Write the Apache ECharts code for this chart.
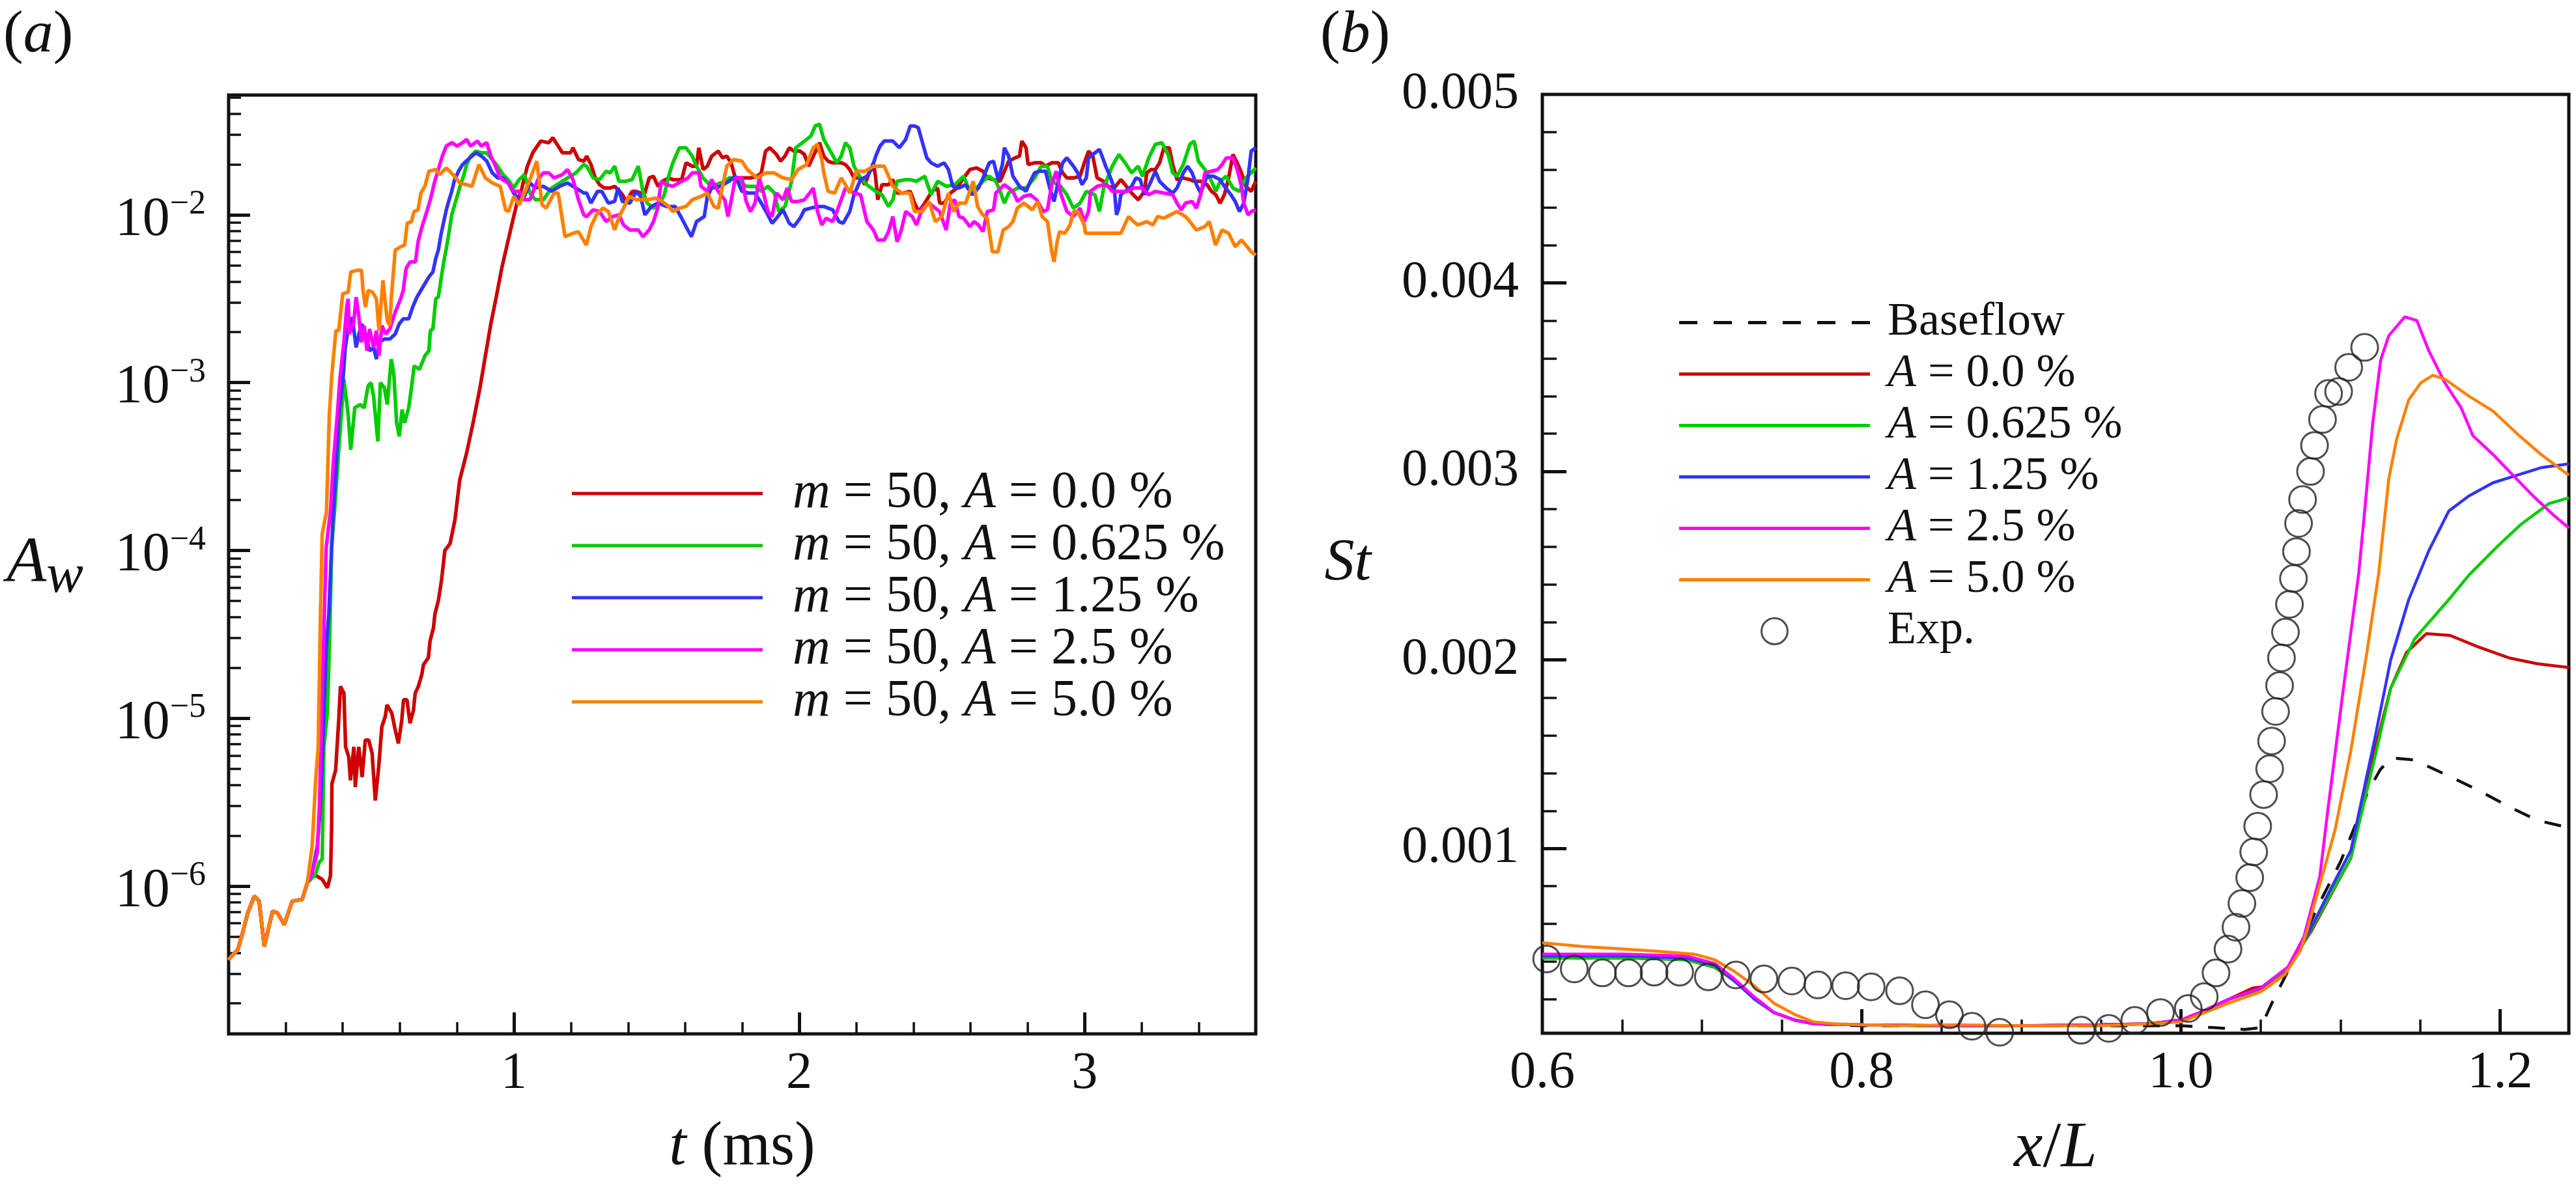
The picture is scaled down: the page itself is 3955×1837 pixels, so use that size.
<!DOCTYPE html>
<html lang="en">
<head>
<meta charset="UTF-8" />
<title>A_w growth and St distribution</title>
<style>
  html, body { margin: 0; padding: 0; background: #fff; }
  #chart { width: 3955px; height: 1837px; }
</style>
</head>
<body>
<div id="chart"></div>
<script src="https://cdn.jsdelivr.net/npm/echarts@6/dist/echarts.min.js"></script>
<script>
// ---------- panel (a): log10(A_w) against t (ms) ----------
// all five runs share the same start
var aCommon = [[0.0,-6.44],[0.009,-6.42],[0.032,-6.38],[0.049,-6.28],[0.067,-6.16],[0.090,-6.06],[0.107,-6.09],[0.125,-6.36],[0.154,-6.15],[0.171,-6.16],[0.195,-6.23],[0.223,-6.09],[0.258,-6.08],[0.276,-5.98]];

var aRed = [[0.299,-5.93],[0.328,-5.96],[0.346,-6.01],[0.357,-5.94],[0.361,-5.65],[0.362,-5.39],[0.375,-5.31],[0.386,-5.01],[0.392,-4.81],[0.404,-4.85],[0.410,-5.17],[0.421,-5.23],[0.427,-5.37],[0.439,-5.17],[0.444,-5.41],[0.456,-5.17],[0.468,-5.35],[0.479,-5.13],[0.491,-5.13],[0.503,-5.21],[0.514,-5.49],[0.526,-5.29],[0.537,-5.05],[0.549,-4.99],[0.555,-4.92],[0.572,-4.97],[0.584,-5.07],[0.595,-5.15],[0.607,-5.01],[0.613,-4.89],[0.625,-4.89],[0.636,-5.03],[0.648,-4.95],[0.654,-4.85],[0.665,-4.81],[0.677,-4.74],[0.683,-4.68],[0.700,-4.64],[0.706,-4.54],[0.718,-4.46],[0.723,-4.38],[0.735,-4.30],[0.746,-4.18],[0.758,-4.00],[0.776,-3.96],[0.793,-3.82],[0.810,-3.58],[0.834,-3.42],[0.858,-3.23],[0.881,-3.03],[0.900,-2.84],[0.919,-2.65],[0.938,-2.49],[0.957,-2.32],[0.976,-2.18],[0.995,-2.04],[1.009,-1.94],[1.028,-1.84],[1.047,-1.71],[1.066,-1.63],[1.094,-1.56],[1.122,-1.57],[1.136,-1.54],[1.155,-1.59],[1.170,-1.63],[1.198,-1.63],[1.207,-1.60],[1.226,-1.67],[1.245,-1.68],[1.255,-1.65],[1.270,-1.70],[1.285,-1.78],[1.300,-1.82],[1.316,-1.84],[1.338,-1.84],[1.353,-1.83],[1.376,-1.87],[1.395,-1.92],[1.414,-1.86],[1.429,-1.86],[1.444,-1.87],[1.459,-1.87],[1.474,-1.78],[1.489,-1.77],[1.505,-1.83],[1.520,-1.80],[1.542,-1.78],[1.557,-1.79],[1.588,-1.79],[1.603,-1.69],[1.625,-1.71],[1.640,-1.71],[1.648,-1.60],[1.663,-1.73],[1.678,-1.71],[1.693,-1.65],[1.716,-1.62],[1.731,-1.66],[1.746,-1.65],[1.761,-1.69],[1.776,-1.78],[1.799,-1.78],[1.829,-1.78],[1.852,-1.77],[1.867,-1.75],[1.882,-1.62],[1.897,-1.60],[1.920,-1.64],[1.935,-1.68],[1.950,-1.65],[1.965,-1.60],[1.981,-1.62],[2.003,-1.62],[2.018,-1.64],[2.033,-1.71],[2.049,-1.65],[2.064,-1.60],[2.071,-1.57],[2.086,-1.65],[2.101,-1.68],[2.117,-1.69],[2.147,-1.69],[2.162,-1.70],[2.177,-1.73],[2.192,-1.78],[2.215,-1.78],[2.230,-1.82],[2.245,-1.75],[2.260,-1.69],[2.268,-1.78],[2.275,-1.91],[2.290,-1.82],[2.313,-1.82],[2.328,-1.79],[2.343,-1.87],[2.366,-1.87],[2.389,-1.86],[2.404,-1.93],[2.419,-1.98],[2.440,-1.93],[2.465,-1.86],[2.485,-1.84],[2.492,-1.93],[2.508,-1.93],[2.530,-1.87],[2.553,-1.84],[2.568,-1.80],[2.598,-1.73],[2.621,-1.72],[2.644,-1.74],[2.659,-1.78],[2.681,-1.79],[2.704,-1.80],[2.719,-1.74],[2.734,-1.68],[2.757,-1.66],[2.772,-1.65],[2.780,-1.56],[2.795,-1.60],[2.802,-1.70],[2.825,-1.69],[2.848,-1.69],[2.863,-1.71],[2.885,-1.69],[2.908,-1.69],[2.923,-1.75],[2.938,-1.78],[2.961,-1.78],[2.984,-1.77],[2.999,-1.69],[3.014,-1.62],[3.029,-1.65],[3.044,-1.78],[3.067,-1.80],[3.082,-1.83],[3.104,-1.84],[3.127,-1.79],[3.142,-1.82],[3.165,-1.87],[3.188,-1.91],[3.210,-1.86],[3.218,-1.75],[3.233,-1.73],[3.248,-1.73],[3.263,-1.69],[3.278,-1.60],[3.297,-1.60],[3.309,-1.70],[3.324,-1.79],[3.346,-1.78],[3.369,-1.79],[3.384,-1.80],[3.407,-1.80],[3.429,-1.82],[3.445,-1.86],[3.460,-1.88],[3.475,-1.93],[3.490,-1.88],[3.505,-1.78],[3.520,-1.64],[3.535,-1.69],[3.550,-1.75],[3.565,-1.83],[3.584,-1.86],[3.600,-1.80]];

var aGreen = [[0.305,-5.93],[0.317,-5.86],[0.328,-5.84],[0.334,-5.17],[0.346,-4.97],[0.354,-4.54],[0.361,-3.98],[0.371,-3.77],[0.386,-3.40],[0.400,-3.08],[0.404,-2.98],[0.419,-3.19],[0.428,-3.40],[0.442,-3.15],[0.461,-3.13],[0.475,-3.15],[0.489,-3.02],[0.499,-3.00],[0.508,-3.08],[0.523,-3.35],[0.532,-3.00],[0.546,-3.03],[0.556,-3.13],[0.570,-2.86],[0.579,-2.95],[0.589,-3.24],[0.598,-3.32],[0.608,-3.16],[0.617,-3.24],[0.631,-3.15],[0.641,-3.03],[0.650,-2.90],[0.669,-2.92],[0.688,-2.84],[0.702,-2.81],[0.707,-2.69],[0.716,-2.68],[0.726,-2.50],[0.735,-2.49],[0.744,-2.39],[0.754,-2.28],[0.763,-2.20],[0.773,-2.10],[0.782,-2.00],[0.792,-1.94],[0.801,-1.89],[0.811,-1.83],[0.825,-1.76],[0.834,-1.70],[0.848,-1.65],[0.867,-1.62],[0.886,-1.63],[0.905,-1.63],[0.924,-1.67],[0.943,-1.71],[0.962,-1.76],[0.980,-1.79],[0.999,-1.84],[1.018,-1.79],[1.037,-1.76],[1.056,-1.87],[1.075,-1.91],[1.103,-1.91],[1.132,-1.84],[1.160,-1.81],[1.188,-1.78],[1.217,-1.75],[1.245,-1.70],[1.255,-1.71],[1.278,-1.78],[1.300,-1.79],[1.323,-1.74],[1.338,-1.75],[1.353,-1.71],[1.368,-1.80],[1.391,-1.80],[1.414,-1.79],[1.436,-1.71],[1.452,-1.86],[1.467,-1.93],[1.489,-1.96],[1.512,-1.93],[1.527,-1.88],[1.542,-1.77],[1.557,-1.69],[1.580,-1.60],[1.603,-1.60],[1.625,-1.65],[1.640,-1.71],[1.663,-1.78],[1.686,-1.82],[1.708,-1.82],[1.739,-1.80],[1.754,-1.78],[1.776,-1.78],[1.792,-1.80],[1.814,-1.83],[1.845,-1.83],[1.867,-1.86],[1.890,-1.83],[1.913,-1.87],[1.928,-1.98],[1.950,-1.95],[1.973,-1.80],[1.988,-1.60],[2.011,-1.57],[2.041,-1.53],[2.056,-1.47],[2.071,-1.46],[2.086,-1.55],[2.109,-1.62],[2.132,-1.69],[2.147,-1.65],[2.162,-1.57],[2.177,-1.60],[2.192,-1.71],[2.215,-1.78],[2.237,-1.82],[2.268,-1.86],[2.290,-1.88],[2.313,-1.95],[2.328,-1.91],[2.343,-1.80],[2.373,-1.79],[2.389,-1.79],[2.411,-1.80],[2.440,-1.77],[2.462,-1.88],[2.485,-1.80],[2.515,-1.83],[2.545,-1.82],[2.576,-1.77],[2.598,-1.86],[2.621,-1.84],[2.644,-1.80],[2.666,-1.77],[2.689,-1.80],[2.704,-1.86],[2.719,-1.93],[2.734,-1.87],[2.765,-1.84],[2.795,-1.84],[2.825,-1.78],[2.848,-1.71],[2.870,-1.71],[2.885,-1.80],[2.916,-1.83],[2.938,-1.88],[2.961,-1.96],[2.984,-1.93],[3.006,-1.86],[3.036,-1.88],[3.052,-1.98],[3.067,-1.84],[3.097,-1.71],[3.120,-1.64],[3.142,-1.69],[3.165,-1.75],[3.188,-1.71],[3.203,-1.77],[3.225,-1.66],[3.248,-1.58],[3.271,-1.57],[3.293,-1.64],[3.309,-1.75],[3.324,-1.77],[3.346,-1.70],[3.369,-1.58],[3.384,-1.56],[3.399,-1.68],[3.422,-1.73],[3.445,-1.80],[3.460,-1.86],[3.475,-1.80],[3.497,-1.77],[3.520,-1.84],[3.543,-1.86],[3.565,-1.78],[3.584,-1.75],[3.600,-1.72]];

var aBlue = [[0.293,-5.92],[0.311,-5.76],[0.322,-5.51],[0.334,-4.97],[0.342,-4.58],[0.351,-4.38],[0.361,-3.98],[0.367,-3.77],[0.376,-3.52],[0.386,-3.19],[0.400,-3.00],[0.409,-2.79],[0.419,-2.68],[0.433,-2.61],[0.447,-2.79],[0.457,-2.71],[0.466,-2.65],[0.480,-2.71],[0.494,-2.81],[0.508,-2.79],[0.518,-2.86],[0.527,-2.76],[0.546,-2.74],[0.565,-2.74],[0.584,-2.71],[0.598,-2.65],[0.612,-2.62],[0.631,-2.62],[0.645,-2.55],[0.660,-2.49],[0.674,-2.45],[0.688,-2.41],[0.702,-2.37],[0.716,-2.34],[0.726,-2.26],[0.735,-2.21],[0.744,-2.12],[0.754,-2.04],[0.763,-1.97],[0.773,-1.91],[0.782,-1.86],[0.792,-1.79],[0.806,-1.74],[0.820,-1.70],[0.839,-1.67],[0.867,-1.63],[0.886,-1.65],[0.905,-1.68],[0.924,-1.75],[0.943,-1.78],[0.962,-1.78],[0.980,-1.81],[0.999,-1.87],[1.018,-1.91],[1.037,-1.89],[1.056,-1.81],[1.075,-1.84],[1.103,-1.83],[1.132,-1.86],[1.160,-1.83],[1.188,-1.81],[1.217,-1.84],[1.245,-1.87],[1.255,-1.87],[1.270,-1.93],[1.293,-1.86],[1.308,-1.86],[1.331,-1.93],[1.353,-1.92],[1.365,-1.84],[1.380,-1.92],[1.406,-1.93],[1.429,-1.86],[1.444,-1.89],[1.459,-2.00],[1.482,-1.95],[1.505,-1.93],[1.535,-1.95],[1.565,-1.95],[1.588,-2.02],[1.603,-2.07],[1.622,-2.13],[1.640,-2.04],[1.667,-2.01],[1.678,-1.89],[1.693,-1.84],[1.724,-1.83],[1.754,-1.80],[1.776,-1.77],[1.799,-1.86],[1.822,-1.87],[1.845,-1.87],[1.867,-1.93],[1.890,-2.00],[1.905,-2.05],[1.920,-2.02],[1.943,-1.97],[1.965,-2.05],[1.981,-2.07],[2.003,-2.02],[2.018,-1.97],[2.041,-1.96],[2.064,-1.95],[2.086,-1.95],[2.117,-1.97],[2.139,-2.04],[2.154,-2.05],[2.177,-1.98],[2.192,-1.88],[2.215,-1.79],[2.237,-1.77],[2.253,-1.73],[2.268,-1.65],[2.283,-1.59],[2.298,-1.56],[2.328,-1.56],[2.351,-1.60],[2.373,-1.55],[2.389,-1.47],[2.404,-1.47],[2.417,-1.48],[2.432,-1.57],[2.447,-1.66],[2.462,-1.69],[2.485,-1.71],[2.508,-1.69],[2.523,-1.73],[2.538,-1.83],[2.560,-1.84],[2.583,-1.82],[2.606,-1.88],[2.628,-1.84],[2.644,-1.78],[2.666,-1.69],[2.681,-1.68],[2.697,-1.79],[2.712,-1.70],[2.719,-1.60],[2.734,-1.65],[2.749,-1.77],[2.772,-1.83],[2.795,-1.86],[2.810,-1.80],[2.825,-1.75],[2.840,-1.74],[2.863,-1.74],[2.878,-1.84],[2.893,-1.92],[2.908,-1.80],[2.923,-1.69],[2.938,-1.66],[2.961,-1.71],[2.976,-1.75],[2.991,-1.82],[3.006,-1.78],[3.014,-1.66],[3.029,-1.64],[3.052,-1.61],[3.059,-1.64],[3.074,-1.71],[3.089,-1.77],[3.104,-1.84],[3.112,-2.00],[3.120,-1.96],[3.127,-1.88],[3.142,-1.86],[3.165,-1.83],[3.180,-1.78],[3.195,-1.79],[3.210,-1.88],[3.233,-1.80],[3.248,-1.74],[3.263,-1.80],[3.286,-1.84],[3.309,-1.87],[3.324,-1.84],[3.346,-1.75],[3.361,-1.71],[3.377,-1.75],[3.392,-1.82],[3.407,-1.87],[3.429,-1.77],[3.452,-1.77],[3.475,-1.79],[3.490,-1.83],[3.513,-1.88],[3.528,-1.92],[3.543,-1.98],[3.558,-1.93],[3.573,-1.78],[3.584,-1.62],[3.600,-1.60]];

var aMagenta = [[0.293,-5.92],[0.311,-5.80],[0.319,-5.49],[0.326,-4.97],[0.334,-4.48],[0.342,-3.98],[0.357,-3.77],[0.367,-3.48],[0.381,-3.19],[0.390,-2.98],[0.404,-2.76],[0.414,-2.55],[0.419,-2.50],[0.423,-2.71],[0.438,-2.65],[0.447,-2.49],[0.456,-2.60],[0.466,-2.76],[0.475,-2.66],[0.485,-2.81],[0.494,-2.68],[0.508,-2.79],[0.518,-2.69],[0.527,-2.84],[0.537,-2.66],[0.551,-2.71],[0.565,-2.68],[0.584,-2.58],[0.603,-2.50],[0.612,-2.45],[0.622,-2.32],[0.636,-2.28],[0.655,-2.28],[0.664,-2.16],[0.678,-2.07],[0.693,-1.99],[0.707,-1.91],[0.721,-1.81],[0.735,-1.73],[0.749,-1.65],[0.763,-1.59],[0.782,-1.57],[0.801,-1.59],[0.820,-1.57],[0.834,-1.55],[0.848,-1.59],[0.872,-1.56],[0.886,-1.59],[0.905,-1.57],[0.919,-1.65],[0.933,-1.70],[0.952,-1.78],[0.980,-1.81],[0.999,-1.86],[1.018,-1.86],[1.037,-1.91],[1.056,-1.91],[1.084,-1.79],[1.103,-1.75],[1.122,-1.75],[1.141,-1.78],[1.169,-1.76],[1.188,-1.73],[1.207,-1.79],[1.226,-1.91],[1.245,-2.00],[1.255,-2.01],[1.278,-1.97],[1.300,-1.98],[1.323,-2.04],[1.346,-2.01],[1.368,-2.00],[1.384,-2.06],[1.406,-2.09],[1.436,-2.09],[1.452,-2.13],[1.474,-2.09],[1.489,-2.04],[1.504,-1.96],[1.516,-1.80],[1.535,-1.82],[1.557,-1.83],[1.588,-1.80],[1.610,-1.78],[1.625,-1.75],[1.648,-1.75],[1.656,-1.83],[1.678,-1.86],[1.693,-1.79],[1.716,-1.86],[1.739,-1.91],[1.750,-2.01],[1.761,-1.92],[1.776,-1.78],[1.799,-1.78],[1.814,-1.92],[1.829,-1.98],[1.845,-1.93],[1.860,-1.78],[1.875,-1.87],[1.890,-1.98],[1.905,-2.01],[1.920,-1.87],[1.943,-1.91],[1.958,-1.84],[1.973,-1.92],[1.996,-1.92],[2.018,-1.91],[2.041,-1.86],[2.049,-1.84],[2.064,-1.98],[2.079,-2.06],[2.094,-2.02],[2.117,-2.04],[2.132,-1.98],[2.147,-1.91],[2.162,-1.84],[2.192,-1.87],[2.215,-1.88],[2.237,-2.04],[2.260,-2.09],[2.275,-2.15],[2.298,-2.15],[2.313,-2.10],[2.328,-2.01],[2.343,-2.16],[2.358,-2.09],[2.373,-1.98],[2.396,-2.01],[2.411,-2.06],[2.432,-1.96],[2.455,-1.93],[2.477,-1.96],[2.492,-1.98],[2.515,-2.09],[2.530,-1.93],[2.545,-1.91],[2.560,-2.01],[2.576,-2.02],[2.598,-2.07],[2.613,-2.04],[2.628,-2.06],[2.644,-2.10],[2.659,-1.98],[2.681,-1.97],[2.689,-1.87],[2.719,-1.82],[2.749,-1.86],[2.765,-1.92],[2.787,-1.89],[2.810,-1.88],[2.832,-1.91],[2.855,-1.98],[2.870,-1.97],[2.885,-1.82],[2.901,-1.74],[2.916,-1.87],[2.938,-1.98],[2.961,-2.01],[2.984,-1.96],[2.999,-2.04],[3.014,-1.98],[3.021,-1.86],[3.044,-1.83],[3.067,-1.82],[3.082,-1.83],[3.097,-1.86],[3.127,-1.86],[3.150,-1.86],[3.172,-1.84],[3.203,-1.84],[3.225,-1.88],[3.248,-1.86],[3.278,-1.87],[3.309,-1.88],[3.324,-1.93],[3.339,-1.97],[3.354,-1.93],[3.377,-1.92],[3.392,-1.96],[3.407,-1.88],[3.422,-1.75],[3.445,-1.74],[3.467,-1.73],[3.482,-1.70],[3.497,-1.66],[3.520,-1.66],[3.535,-1.73],[3.550,-1.83],[3.558,-1.93],[3.573,-2.00],[3.584,-1.98],[3.600,-1.97]];

var aOrange = [[0.293,-5.76],[0.305,-5.37],[0.314,-5.17],[0.322,-4.38],[0.328,-3.90],[0.343,-3.77],[0.353,-3.19],[0.362,-2.95],[0.376,-2.69],[0.386,-2.69],[0.400,-2.47],[0.419,-2.46],[0.428,-2.34],[0.452,-2.33],[0.466,-2.33],[0.471,-2.45],[0.480,-2.55],[0.489,-2.45],[0.504,-2.46],[0.518,-2.50],[0.527,-2.69],[0.541,-2.39],[0.556,-2.63],[0.565,-2.66],[0.570,-2.50],[0.584,-2.21],[0.603,-2.19],[0.617,-2.18],[0.626,-2.05],[0.641,-2.04],[0.650,-1.98],[0.664,-1.97],[0.674,-1.87],[0.688,-1.83],[0.702,-1.74],[0.726,-1.73],[0.740,-1.76],[0.763,-1.72],[0.792,-1.77],[0.810,-1.81],[0.834,-1.82],[0.853,-1.83],[0.877,-1.70],[0.900,-1.78],[0.924,-1.81],[0.952,-1.83],[0.971,-1.97],[0.981,-1.98],[1.000,-1.89],[1.018,-1.94],[1.037,-1.87],[1.056,-1.79],[1.080,-1.68],[1.099,-1.94],[1.113,-1.96],[1.141,-1.87],[1.155,-1.87],[1.179,-2.13],[1.207,-2.11],[1.226,-2.10],[1.254,-2.18],[1.270,-2.07],[1.289,-2.00],[1.312,-1.96],[1.331,-1.98],[1.353,-2.09],[1.369,-2.01],[1.387,-1.95],[1.403,-1.89],[1.429,-1.91],[1.467,-1.91],[1.497,-1.90],[1.520,-1.92],[1.542,-1.95],[1.557,-1.98],[1.580,-1.96],[1.603,-1.95],[1.625,-1.91],[1.656,-1.89],[1.678,-1.87],[1.701,-1.95],[1.716,-1.96],[1.731,-1.83],[1.746,-1.71],[1.769,-1.67],[1.799,-1.68],[1.818,-1.73],[1.852,-1.78],[1.882,-1.75],[1.912,-1.75],[1.943,-1.78],[1.973,-1.79],[1.996,-1.73],[2.026,-1.70],[2.049,-1.60],[2.064,-1.58],[2.079,-1.67],[2.086,-1.75],[2.101,-1.86],[2.124,-1.87],[2.147,-1.78],[2.162,-1.82],[2.177,-1.87],[2.200,-1.74],[2.230,-1.74],[2.260,-1.71],[2.298,-1.71],[2.328,-1.83],[2.358,-1.87],[2.388,-1.87],[2.404,-1.98],[2.432,-1.98],[2.455,-1.92],[2.477,-2.04],[2.500,-2.01],[2.523,-1.87],[2.541,-1.98],[2.560,-1.93],[2.583,-1.93],[2.610,-1.80],[2.625,-1.95],[2.643,-2.00],[2.659,-2.02],[2.677,-2.22],[2.696,-2.22],[2.715,-2.09],[2.734,-2.07],[2.749,-2.04],[2.764,-1.96],[2.787,-1.93],[2.817,-1.97],[2.836,-1.92],[2.851,-2.01],[2.870,-2.04],[2.885,-2.22],[2.893,-2.28],[2.904,-2.16],[2.912,-2.10],[2.931,-2.11],[2.949,-2.06],[2.961,-1.98],[2.976,-1.98],[2.999,-2.06],[3.003,-2.11],[3.044,-2.11],[3.097,-2.11],[3.127,-2.11],[3.154,-2.01],[3.172,-2.04],[3.187,-2.06],[3.218,-2.04],[3.240,-2.06],[3.256,-2.01],[3.278,-2.02],[3.301,-2.00],[3.324,-1.98],[3.354,-2.01],[3.369,-2.04],[3.392,-2.09],[3.422,-2.07],[3.437,-2.04],[3.459,-2.18],[3.482,-2.09],[3.505,-2.11],[3.528,-2.19],[3.550,-2.15],[3.565,-2.18],[3.584,-2.22],[3.600,-2.24]];

var aNames = ['m = 50, A = 0.0 %', 'm = 50, A = 0.625 %', 'm = 50, A = 1.25 %', 'm = 50, A = 2.5 %', 'm = 50, A = 5.0 %'];
var aTickT = [1, 2, 3];
var aMinorT = [0.2, 0.4, 0.6, 0.8, 1.2, 1.4, 1.6, 1.8, 2.2, 2.4, 2.6, 2.8, 3.2, 3.4];
var aDecades = [-6, -5, -4, -3, -2];

// ---------- panel (b): St against x/L ----------
var bBaseflow = [[0.6,0.00042],[0.65,0.00042],[0.69,0.00041],[0.708,0.00037],[0.72,0.00030],[0.733,0.00021],[0.745,0.00013],[0.758,0.00009],[0.77,0.00007],[0.8,0.00006],[0.85,0.00006],[0.9,0.00006],[0.95,0.00006],[1.0,0.00006],[1.02,0.00005],[1.04,0.00004],[1.05,0.00005],[1.057,0.00018],[1.07,0.0004],[1.085,0.00068],[1.1,0.00093],[1.111,0.00116],[1.117,0.0013],[1.125,0.00142],[1.132,0.00148],[1.146,0.00147],[1.169,0.00138],[1.186,0.00131],[1.206,0.00122],[1.223,0.00115],[1.243,0.00111]];
var bRed = [[0.6,0.00042],[0.65,0.00042],[0.69,0.00041],[0.708,0.00037],[0.72,0.0003],[0.733,0.00021],[0.745,0.00013],[0.758,0.00009],[0.77,0.00007],[0.8,0.000065],[0.85,0.00006],[0.9,0.00006],[0.95,0.000065],[0.98,0.00007],[1.0,0.00009],[1.012,0.00013],[1.03,0.0002],[1.045,0.00026],[1.055,0.00027],[1.067,0.00036],[1.077,0.0005],[1.0816,0.00056],[1.1065,0.00095],[1.1214,0.00152],[1.1314,0.00185],[1.1413,0.00204],[1.1538,0.00214],[1.1687,0.00213],[1.186,0.00207],[1.206,0.00201],[1.2233,0.00198],[1.243,0.00196]];
var bGreen = [[0.6,0.00042],[0.65,0.00042],[0.69,0.00041],[0.708,0.00037],[0.72,0.0003],[0.733,0.0002],[0.745,0.00013],[0.758,0.00009],[0.77,0.00007],[0.8,0.000065],[0.85,0.00006],[0.9,0.00006],[0.95,0.000065],[0.98,0.00007],[1.0,0.00009],[1.012,0.00013],[1.03,0.0002],[1.05,0.00025],[1.067,0.00036],[1.077,0.0005],[1.0816,0.00057],[1.1065,0.00095],[1.1214,0.00148],[1.1314,0.00185],[1.1377,0.00196],[1.1463,0.00211],[1.1503,0.00215],[1.1678,0.00232],[1.1804,0.00245],[1.198,0.0026],[1.2131,0.00272],[1.2306,0.00283],[1.243,0.00286]];
var bBlue = [[0.6,0.00043],[0.65,0.00043],[0.69,0.00042],[0.708,0.00038],[0.72,0.0003],[0.733,0.0002],[0.745,0.00013],[0.758,0.00009],[0.77,0.00007],[0.8,0.000065],[0.85,0.00006],[0.9,0.00006],[0.95,0.000065],[0.98,0.00007],[1.0,0.00009],[1.012,0.00013],[1.03,0.0002],[1.05,0.00026],[1.067,0.00037],[1.077,0.00051],[1.0816,0.00058],[1.0935,0.00078],[1.1065,0.00099],[1.1214,0.00158],[1.1314,0.002],[1.1427,0.00232],[1.1553,0.00258],[1.1678,0.00279],[1.1804,0.00287],[1.1955,0.00294],[1.2106,0.00298],[1.2256,0.00302],[1.243,0.00304]];
var bMagenta = [[0.6,0.00044],[0.65,0.00044],[0.69,0.00043],[0.708,0.00039],[0.72,0.00031],[0.733,0.00021],[0.745,0.00013],[0.758,0.00009],[0.77,0.00007],[0.8,0.000065],[0.85,0.00006],[0.9,0.00006],[0.95,0.000065],[0.98,0.00007],[1.0,0.00009],[1.012,0.00013],[1.03,0.0002],[1.05,0.00026],[1.067,0.00037],[1.077,0.00053],[1.087,0.00085],[1.092,0.0012],[1.1015,0.00183],[1.1114,0.00246],[1.1151,0.00279],[1.1201,0.00325],[1.1251,0.00359],[1.1302,0.00372],[1.1402,0.00382],[1.1478,0.0038],[1.1553,0.00364],[1.1653,0.00347],[1.1754,0.00334],[1.1829,0.00319],[1.1955,0.00309],[1.208,0.00298],[1.2206,0.00287],[1.2332,0.00277],[1.243,0.0027]];
var bOrange = [[0.6,0.0005],[0.625,0.00048],[0.645,0.00047],[0.67,0.000456],[0.695,0.00044],[0.708,0.00041],[0.72,0.00035],[0.733,0.00027],[0.745,0.00018],[0.758,0.00012],[0.77,0.00008],[0.783,0.00007],[0.82,0.00006],[0.86,0.000065],[0.9,0.00006],[0.95,0.00006],[0.98,0.00007],[1.0,0.00008],[1.012,0.00012],[1.03,0.00018],[1.05,0.00024],[1.065,0.00033],[1.075,0.00046],[1.0792,0.00057],[1.0966,0.0011],[1.1065,0.00152],[1.1165,0.00204],[1.1239,0.00246],[1.1302,0.00296],[1.1351,0.00317],[1.1427,0.00338],[1.1503,0.00347],[1.1578,0.00351],[1.1653,0.00349],[1.1804,0.0034],[1.1955,0.00332],[1.2106,0.0032],[1.2256,0.00309],[1.243,0.00298]];
var bExp = [[0.6027,0.000414],[0.620,0.000361],[0.6376,0.00034],[0.654,0.00034],[0.670,0.000344],[0.686,0.000344],[0.704,0.000319],[0.7213,0.000329],[0.7388,0.000308],[0.7563,0.000297],[0.7726,0.000276],[0.790,0.000272],[0.806,0.000266],[0.8238,0.000245],[0.840,0.000171],[0.855,0.000118],[0.8691,0.000057],[0.8865,0.000025],[0.9375,0.000036],[0.9549,0.000046],[0.9711,0.000088],[0.9872,0.00013],[1.0046,0.000151],[1.0146,0.000214],[1.022,0.00034],[1.0295,0.000466],[1.0345,0.000582],[1.0382,0.000708],[1.0431,0.000845],[1.0456,0.000982],[1.0481,0.001118],[1.0518,0.001286],[1.0556,0.001423],[1.0568,0.00157],[1.0593,0.001727],[1.0618,0.001864],[1.063,0.002011],[1.0655,0.002148],[1.068,0.002295],[1.0705,0.002432],[1.0724,0.002575],[1.0737,0.002724],[1.0762,0.002851],[1.0812,0.003],[1.0837,0.003138],[1.0887,0.003276],[1.0925,0.003414],[1.0988,0.003424],[1.1051,0.003552],[1.1151,0.003658]];

var bNames = ['Baseflow', 'A = 0.0 %', 'A = 0.625 %', 'A = 1.25 %', 'A = 2.5 %', 'A = 5.0 %', 'Exp.'];
var bTickX = [0.6, 0.8, 1.0, 1.2];
var bMinorX = [0.65, 0.7, 0.75, 0.85, 0.9, 0.95, 1.05, 1.1, 1.15];
var bTickY = [0.001, 0.002, 0.003, 0.004, 0.005];
var bMinorY = [0.0002, 0.0004, 0.0006, 0.0008, 0.0012, 0.0014, 0.0016, 0.0018, 0.0022, 0.0024, 0.0026, 0.0028, 0.0032, 0.0034, 0.0036, 0.0038, 0.0042, 0.0044, 0.0046, 0.0048];

var runColors = ['#cc0000', '#00cc00', '#3333ff', '#ff00ff', '#ff8000'];

// ---------- layout / style ----------
var FONT = 'Liberation Serif';
var INK = '#111';
var A_YMIN = -6.881, A_YMAX = -1.286;

var aMinorLg = [];
[-7].concat(aDecades).forEach(function (e) {
  for (var k = 2; k <= 9; k++) {
    var v = e + Math.log10(k);
    if (v > A_YMIN && v < A_YMAX) aMinorLg.push(v);
  }
});

var linePath = 'path://M0,0h293v5h-293z';
var dashPath = 'path://M0,0h28v5h-28zM53,0h28v5h-28zM106,0h28v5h-28zM159,0h28v5h-28zM212,0h28v5h-28zM265,0h28v5h-28z';

function tickAxis(gi, min, max, ticks, len, width, pos) {
  return {
    type: 'value', gridIndex: gi, min: min, max: max, position: pos,
    axisLine: { show: false, onZero: false },
    splitLine: { show: false },
    axisTick: { show: true, inside: true, length: len, customValues: ticks, lineStyle: { color: INK, width: width } },
    axisLabel: { show: false }
  };
}

function withLabels(ax, vals, fmt, margin, extra) {
  ax.axisLabel = Object.assign({
    show: true, customValues: vals, formatter: fmt, margin: margin,
    color: INK, fontFamily: FONT, fontSize: 80
  }, extra || {});
  return ax;
}

function nameStyle(size) {
  return {
    fontFamily: FONT, fontSize: size, fontWeight: 'normal', color: INK,
    rich: {
      i: { fontFamily: FONT, fontSize: size, fontWeight: 'normal', fontStyle: 'italic', color: INK },
      sub: { fontFamily: FONT, fontSize: size * 0.85, fontWeight: 'normal', fontStyle: 'italic', color: INK, padding: [40, 0, 0, 0] }
    }
  };
}

function legendText(size, lh, gap) {
  return {
    fontFamily: FONT, fontSize: size, lineHeight: lh, color: INK, padding: [0, 0, 0, gap],
    rich: { i: { fontFamily: FONT, fontSize: size, lineHeight: lh, fontStyle: 'italic', color: INK } }
  };
}

// x axes: 0 (a) major, 1 (a) minor, 2 (b) major, 3 (b) minor
var xAxes = [
  withLabels(tickAxis(0, 0, 3.6, aTickT, 33, 5, 'bottom'), aTickT, function (v) { return String(v); }, 22),
  tickAxis(0, 0, 3.6, aMinorT, 18, 3.5, 'bottom'),
  withLabels(tickAxis(1, 0.6, 1.243, bTickX.slice(1), 37, 5, 'bottom'), bTickX, function (v) { return v.toFixed(1); }, 22),
  tickAxis(1, 0.6, 1.243, bMinorX, 21, 3.5, 'bottom')
];
xAxes[0].name = '{i|t} (ms)';
xAxes[0].nameLocation = 'middle';
xAxes[0].nameGap = 128;
xAxes[0].nameTextStyle = nameStyle(95);
xAxes[2].name = '{i|x}/{i|L}';
xAxes[2].nameLocation = 'middle';
xAxes[2].nameGap = 128;
xAxes[2].nameTextStyle = nameStyle(100);

var yAxes = [
  withLabels(tickAxis(0, A_YMIN, A_YMAX, aDecades, 33, 5, 'left'), aDecades,
    function (v) { return '10{sup|\u2212' + Math.round(-v) + '}'; }, 35,
    { fontSize: 84, lineHeight: 100, padding: [17, 0, 0, 0],
      rich: { sup: { fontFamily: FONT, fontSize: 52, lineHeight: 52, verticalAlign: 'top', color: INK } } }),
  tickAxis(0, A_YMIN, A_YMAX, aMinorLg, 19, 3.5, 'left'),
  withLabels(tickAxis(1, 0.00002, 0.005, bTickY.slice(0, 4), 37, 5, 'left'), bTickY, function (v) { return v.toFixed(3); }, 36),
  tickAxis(1, 0.00002, 0.005, bMinorY, 22, 3.5, 'left')
];
yAxes[0].name = '{i|A}{sub|w}';
yAxes[0].nameLocation = 'middle';
yAxes[0].nameRotate = 0;
yAxes[0].nameGap = 223;
yAxes[0].nameTextStyle = nameStyle(100);
yAxes[2].name = '{i|St}';
yAxes[2].nameLocation = 'middle';
yAxes[2].nameRotate = 0;
yAxes[2].nameGap = 263;
yAxes[2].nameTextStyle = nameStyle(92);

var series = [];
[aRed, aGreen, aBlue, aMagenta, aOrange].forEach(function (tail, i) {
  series.push({
    name: aNames[i], type: 'line', xAxisIndex: 0, yAxisIndex: 0,
    data: aCommon.concat(tail), symbol: 'none', showSymbol: false,
    itemStyle: { color: runColors[i] },
    lineStyle: { color: runColors[i], width: 5.5 }
  });
});
series.push({
  name: bNames[0], type: 'line', xAxisIndex: 2, yAxisIndex: 2, data: bBaseflow,
  symbol: 'none', showSymbol: false, itemStyle: { color: INK },
  lineStyle: { color: INK, width: 4.5, type: [26, 24] }
});
[bRed, bGreen, bBlue, bMagenta, bOrange].forEach(function (d, i) {
  series.push({
    name: bNames[i + 1], type: 'line', xAxisIndex: 2, yAxisIndex: 2, data: d,
    symbol: 'none', showSymbol: false,
    itemStyle: { color: runColors[i] },
    lineStyle: { color: runColors[i], width: 4.5 }
  });
});
series.push({
  name: bNames[6], type: 'scatter', xAxisIndex: 2, yAxisIndex: 2, data: bExp,
  symbol: 'circle', symbolSize: 41, z: 4,
  itemStyle: { color: 'rgba(0,0,0,0)', borderColor: '#222', borderWidth: 3 }
});

var chart = echarts.init(document.getElementById('chart'));
chart.setOption({
  animation: false,
  backgroundColor: '#fff',
  title: [
    { text: '({i|a})', left: 0, top: 4, textStyle: nameStyle(92) },
    { text: '({i|b})', left: 2022, top: 4, textStyle: nameStyle(92) }
  ],
  grid: [
    { left: 351, top: 146, width: 1577, height: 1442, show: true, borderColor: INK, borderWidth: 5 },
    { left: 2368, top: 145, width: 1576, height: 1442, show: true, borderColor: INK, borderWidth: 5 }
  ],
  legend: [
    {
      orient: 'vertical', left: 878, top: 718, padding: 0, itemGap: 0,
      itemWidth: 293, itemHeight: 40, icon: linePath, selectedMode: false,
      itemStyle: { borderWidth: 0 },
      data: aNames,
      textStyle: legendText(80, 78, 41),
      formatter: function (n) { return n.replace(/^m/, '{i|m}').replace('A =', '{i|A} ='); }
    },
    {
      orient: 'vertical', left: 2578, top: 456, padding: 0, itemGap: 0,
      itemWidth: 293, itemHeight: 40, icon: linePath, selectedMode: false,
      itemStyle: { borderWidth: 0 },
      data: [{ name: bNames[0], icon: dashPath }].concat(bNames.slice(1, 6)).concat([
        { name: bNames[6], icon: 'circle', itemStyle: { color: 'rgba(0,0,0,0)', borderColor: '#222', borderWidth: 3 } }
      ]),
      textStyle: legendText(72, 79, 22),
      formatter: function (n) { return n.replace(/^A =/, '{i|A} ='); }
    }
  ],
  xAxis: xAxes,
  yAxis: yAxes,
  series: series
});
window.addEventListener('resize', function () { chart.resize(); });
</script>
</body>
</html>
